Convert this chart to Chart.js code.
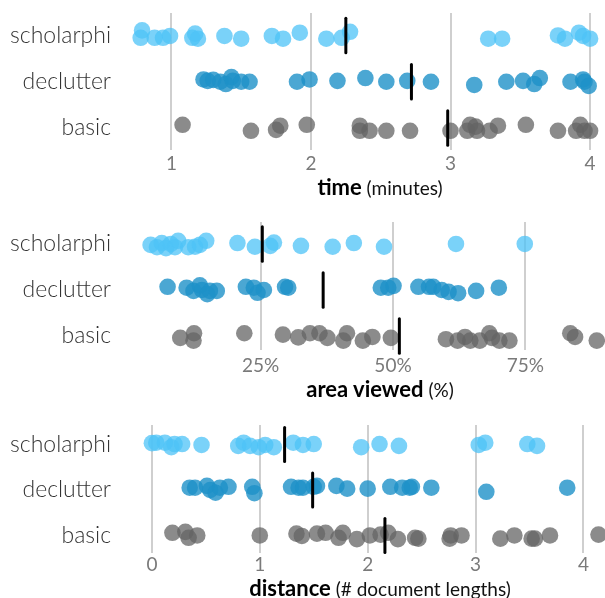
<!DOCTYPE html>
<html>
<head>
<meta charset="utf-8">
<script src="https://cdn.jsdelivr.net/npm/chart.js@4.4.1/dist/chart.umd.min.js"></script>
<style>
  body { margin: 0; background: #fff; font-family: Lato, "Noto Sans", sans-serif; }
  #wrap { position: relative; width: 605px; height: 598px; overflow: hidden; }
  canvas { position: absolute; left: 0; }
  .title { position: absolute; left: 380px; transform: translateX(-50%); white-space: nowrap;
           font-size: 19px; color: #111; line-height: 24px; }
  .title b { font-size: 22px; font-weight: 700; color: #000; }
</style>
</head>
<body>
<div id="wrap">
  <canvas id="timeChart" width="605" height="200" style="top:0"></canvas>
  <canvas id="areaChart" width="605" height="200" style="top:200px"></canvas>
  <canvas id="distChart" width="605" height="198" style="top:400px"></canvas>
  <div class="title" style="top:175px"><b>time</b> (minutes)</div>
  <div class="title" style="top:377px"><b>area viewed</b> (%)</div>
  <div class="title" style="top:576px"><b>distance</b> (# document lengths)</div>
</div>
<script>
// rows, bottom to top
const groups = ["basic", "declutter", "scholarphi"];
const groupColors = ["rgba(100,100,100,0.75)", "rgba(30,145,200,0.8)", "rgba(77,195,247,0.75)"];

// ---- time (minutes) ----
const timeTicks = [1, 2, 3, 4];
const timeScholarphi = [0.79, 0.78, 0.88, 0.94, 0.99, 1.17, 1.15, 1.19, 1.38, 1.50, 1.72, 1.80, 1.92, 2.11, 2.22, 2.28, 3.27, 3.37, 3.77, 3.82, 3.92, 3.95, 4.00];
const timeScholarphiJitter = [0.11, -0.05, -0.05, -0.05, -0.01, 0.04, -0.05, -0.07, -0.01, -0.07, -0.01, -0.07, 0.06, -0.07, -0.05, 0.08, -0.07, -0.07, 0.00, -0.07, 0.06, -0.01, -0.07];
const timeDeclutter = [1.23, 1.26, 1.30, 1.35, 1.39, 1.43, 1.44, 1.50, 1.56, 1.90, 1.99, 2.19, 2.39, 2.54, 2.69, 2.86, 3.17, 3.40, 3.52, 3.60, 3.64, 3.86, 3.95, 3.96, 3.99];
const timeDeclutterJitter = [0.05, 0.02, 0.04, 0.00, -0.05, 0.10, 0.02, 0.00, 0.00, 0.00, 0.05, 0.02, 0.08, 0.00, 0.02, 0.00, -0.07, 0.00, 0.02, -0.05, 0.08, 0.00, 0.05, 0.00, -0.09];
const timeBasic = [1.08, 1.57, 1.75, 1.78, 1.97, 2.35, 2.35, 2.42, 2.54, 2.71, 3.00, 3.12, 3.14, 3.18, 3.19, 3.28, 3.34, 3.54, 3.77, 3.90, 3.93, 3.96, 4.00];
const timeBasicJitter = [0.07, -0.06, -0.04, 0.05, 0.07, 0.05, -0.06, -0.06, -0.06, -0.06, -0.06, -0.06, 0.07, 0.03, -0.06, -0.06, 0.05, 0.07, -0.06, -0.06, 0.07, -0.06, -0.06];
const timeMeans = [2.98, 2.72, 2.25]; // basic, declutter, scholarphi

// ---- area viewed (%) ----
const areaTicks = [25, 50, 75];
const areaScholarphi = [4.2, 5.4, 6.3, 7.1, 8.0, 8.8, 9.4, 11.3, 12.6, 13.5, 14.7, 20.6, 23.9, 26.8, 27.5, 32.6, 38.6, 42.6, 48.3, 61.9, 74.9];
const areaScholarphiJitter = [-0.02, -0.07, 0.02, -0.09, 0.00, -0.07, 0.07, -0.07, -0.06, -0.02, 0.07, 0.02, -0.06, -0.04, 0.03, -0.04, -0.06, 0.02, -0.06, 0.00, 0.00];
const areaDeclutter = [7.4, 11.0, 12.3, 13.5, 13.9, 14.9, 15.4, 16.7, 22.2, 23.7, 24.4, 25.6, 29.6, 30.2, 47.7, 49.1, 50.1, 54.8, 56.8, 57.6, 59.2, 60.5, 62.3, 65.7, 70.0];
const areaDeclutterJitter = [0.07, 0.05, -0.02, 0.10, 0.00, -0.09, -0.02, -0.02, 0.07, 0.05, -0.06, 0.00, 0.07, 0.05, 0.05, 0.05, 0.09, 0.07, 0.07, 0.07, 0.00, -0.04, -0.07, -0.02, 0.05];
const areaBasic = [9.8, 12.4, 12.3, 21.9, 29.2, 32.1, 34.3, 36.1, 37.6, 40.6, 41.3, 44.3, 46.1, 49.6, 60.0, 62.2, 63.6, 64.6, 66.4, 68.2, 68.7, 70.1, 72.0, 83.5, 84.4, 88.5];
const areaBasicJitter = [-0.04, 0.06, -0.10, 0.06, 0.03, -0.03, 0.06, 0.06, -0.04, -0.10, 0.06, -0.10, -0.02, -0.04, -0.07, -0.10, -0.02, -0.10, -0.10, 0.06, -0.04, -0.10, -0.10, 0.06, -0.02, -0.10];
const areaMeans = [51.2, 36.8, 25.3];

// ---- distance (# document lengths) ----
const distTicks = [0, 1, 2, 3, 4];
const distScholarphi = [0.00, 0.04, 0.12, 0.18, 0.21, 0.28, 0.46, 0.80, 0.85, 0.91, 0.99, 1.05, 1.13, 1.31, 1.40, 1.50, 1.94, 2.11, 2.29, 3.03, 3.09, 3.48, 3.57];
const distScholarphiJitter = [0.03, 0.04, 0.04, -0.06, 0.01, 0.01, -0.01, -0.03, 0.04, -0.03, -0.06, -0.01, -0.06, 0.04, -0.01, 0.01, -0.06, 0.01, -0.03, -0.01, 0.04, 0.01, -0.03];
const distDeclutter = [0.35, 0.40, 0.51, 0.54, 0.59, 0.63, 0.71, 0.93, 0.95, 1.29, 1.36, 1.40, 1.50, 1.53, 1.71, 1.81, 2.00, 2.21, 2.32, 2.39, 2.41, 2.59, 3.10, 3.85];
const distDeclutterJitter = [0.05, 0.05, 0.09, 0.00, -0.06, 0.05, 0.07, 0.07, -0.07, 0.07, 0.05, 0.05, 0.07, 0.09, 0.09, 0.03, 0.03, 0.07, 0.05, 0.05, 0.07, 0.05, -0.04, 0.05];
const distBasic = [0.19, 0.31, 0.34, 0.42, 1.00, 1.34, 1.39, 1.53, 1.61, 1.73, 1.77, 1.90, 2.02, 2.12, 2.19, 2.28, 2.44, 2.47, 2.76, 2.77, 2.87, 3.23, 3.36, 3.52, 3.55, 3.69, 4.14];
const distBasicJitter = [0.06, 0.08, -0.05, 0.00, 0.00, 0.04, -0.01, 0.04, 0.06, -0.05, 0.06, -0.08, 0.00, 0.02, 0.06, -0.08, -0.05, -0.07, -0.07, 0.00, 0.00, -0.07, 0.00, -0.07, -0.07, 0.00, 0.02];
const distMeans = [2.16, 1.49, 1.23];

const MEAN_HALF = 0.375;

function points(xs, jitter, row) {
  return xs.map((x, i) => ({ x, y: row + jitter[i] }));
}

function makePanel(id, opts) {
  const datasets = [];

  // mean markers first so they end up on top
  opts.means.forEach((m, row) => {
    datasets.push({
      data: [{ x: m, y: row - MEAN_HALF }, { x: m, y: row + MEAN_HALF }],
      showLine: true,
      borderColor: "#000",
      borderWidth: 3,
      borderCapStyle: "round",
      pointRadius: 0,
      clip: false
    });
  });

  opts.series.forEach((s, row) => {
    datasets.push({
      data: points(s[0], s[1], row),
      backgroundColor: groupColors[row],
      borderWidth: 0,
      pointRadius: 8.3,
      clip: false
    });
  });

  return new Chart(document.getElementById(id), {
    type: "scatter",
    data: { datasets },
    options: {
      responsive: false,
      animation: false,
      events: [],
      layout: { autoPadding: false, padding: { top: opts.padTop, right: 0, left: 0, bottom: 0 } },
      plugins: { legend: { display: false }, tooltip: { enabled: false } },
      scales: {
        x: {
          type: "linear",
          min: opts.xMin,
          max: opts.xMax,
          border: { display: false },
          grid: { color: "#cfcfcf", lineWidth: 2, drawTicks: false },
          ticks: {
            autoSkip: false,
            padding: opts.tickPad,
            color: "#7a7a7a",
            font: { family: "Lato", size: 19 },
            callback: opts.tickLabel
          },
          afterBuildTicks: axis => { axis.ticks = opts.ticks.map(v => ({ value: v })); },
          afterFit: axis => { axis.height = opts.axisHeight; }
        },
        y: {
          type: "linear",
          min: opts.yMin,
          max: opts.yMax,
          border: { display: false },
          grid: { display: false, drawTicks: false },
          ticks: {
            padding: 29,
            color: "#333",
            font: { family: "Lato", size: 23, weight: 300 },
            callback: v => groups[v]
          },
          afterBuildTicks: axis => { axis.ticks = [0, 1, 2].map(v => ({ value: v })); },
          afterFit: axis => {
            axis.width = 140;
            // labels sit beside their rows; don't let them push the plot area
            axis.paddingTop = 0;
            axis.paddingBottom = 0;
          }
        }
      }
    }
  });
}

makePanel("timeChart", {
  series: [[timeBasic, timeBasicJitter], [timeDeclutter, timeDeclutterJitter], [timeScholarphi, timeScholarphiJitter]],
  means: timeMeans,
  ticks: timeTicks,
  tickLabel: v => String(v),
  xMin: 0.775, xMax: 4.107,
  yMin: -0.475, yMax: 2.486,
  padTop: 13, axisHeight: 50, tickPad: 2
});

makePanel("areaChart", {
  series: [[areaBasic, areaBasicJitter], [areaDeclutter, areaDeclutterJitter], [areaScholarphi, areaScholarphiJitter]],
  means: areaMeans,
  ticks: areaTicks,
  tickLabel: v => v + "%",
  xMin: 2.19, xMax: 90.06,
  yMin: -0.304, yMax: 2.478,
  padTop: 22, axisHeight: 50, tickPad: 4
});

makePanel("distChart", {
  series: [[distBasic, distBasicJitter], [distDeclutter, distDeclutterJitter], [distScholarphi, distScholarphiJitter]],
  means: distMeans,
  ticks: distTicks,
  tickLabel: v => String(v),
  xMin: -0.1105, xMax: 4.2002,
  yMin: -0.385, yMax: 2.429,
  padTop: 25, axisHeight: 45, tickPad: 0
});
</script>
</body>
</html>
